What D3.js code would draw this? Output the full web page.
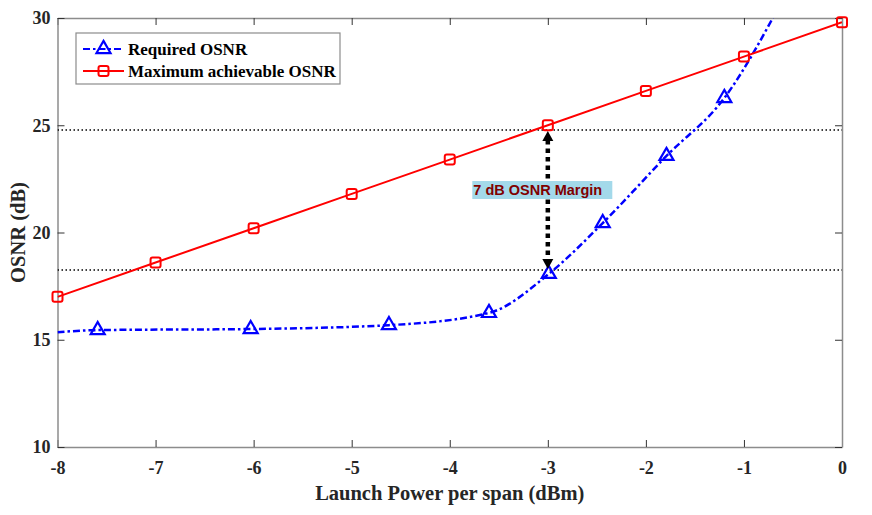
<!DOCTYPE html>
<html>
<head>
<meta charset="utf-8">
<script src="https://cdn.jsdelivr.net/npm/d3@7"></script>
<style>
  body { margin: 0; background: #fff; }
  text { font-family: "Liberation Serif", "Times New Roman", serif; font-weight: bold; }
</style>
</head>
<body>
<div id="wrapper"></div>
<script>
// launch power (dBm) vs OSNR (dB)
const powerMax = [-8, -7, -6, -5, -4, -3, -2, -1, 0];
const osnrMax = [17.0, 18.6, 20.2, 21.8, 23.4, 25.0, 26.6, 28.2, 29.8];

const powerReq = [-8, -7.59, -6.03, -4.62, -3.6, -2.99, -2.44, -1.79, -1.2, -0.6];
const osnrReq = [15.35, 15.45, 15.5, 15.68, 16.25, 18.07, 20.44, 23.57, 26.27, 30.9];
const reqMarkerIdx = [1, 2, 3, 4, 5, 6, 7, 8];

const xTicks = [-8, -7, -6, -5, -4, -3, -2, -1, 0];
const yTicks = [10, 15, 20, 25, 30];

const marginTop = 24.78;
const marginBottom = 18.25;
const marginPower = -3;
const marginLabel = "7 dB OSNR Margin";

function buildPlot() {
    const dimension = {
        width: 872,
        height: 515,
        margin: { top: 18, left: 57.5, bottom: 68, right: 30 }
    };
    dimension.boundedWidth = dimension.width - dimension.margin.left - dimension.margin.right;
    dimension.boundedHeight = dimension.height - dimension.margin.top - dimension.margin.bottom;

    const svg = d3.select("#wrapper").append("svg")
        .attr("width", dimension.width)
        .attr("height", dimension.height);

    const bounded = svg.append("g")
        .attr("transform", `translate(${dimension.margin.left},${dimension.margin.top})`);

    const scaleX = d3.scaleLinear().domain([-8, 0]).range([0, dimension.boundedWidth]);
    const scaleY = d3.scaleLinear().domain([10, 30]).range([dimension.boundedHeight, 0]);

    svg.append("defs").append("clipPath").attr("id", "clip")
        .append("rect")
        .attr("width", dimension.boundedWidth)
        .attr("height", dimension.boundedHeight);

    const axisColor = "#8c8c8c";
    const tickLen = 7;
    const fmt = d => String(d);

    // box axes with inward ticks
    const styleAxis = g => {
        g.select(".domain").attr("stroke", axisColor).attr("stroke-width", 1.5);
        g.selectAll(".tick line").attr("stroke", "#333").attr("stroke-width", 1);
        g.selectAll(".tick text").attr("fill", "#262626")
            .style("font-size", "18px");
    };

    bounded.append("g")
        .attr("transform", `translate(0,${dimension.boundedHeight})`)
        .call(d3.axisBottom(scaleX).tickValues(xTicks).tickFormat(fmt).tickSizeInner(-tickLen).tickSizeOuter(0).tickPadding(14))
        .call(styleAxis);
    bounded.append("g")
        .call(d3.axisTop(scaleX).tickValues(xTicks).tickSizeInner(-tickLen).tickSizeOuter(0).tickFormat(""))
        .call(styleAxis);
    bounded.append("g")
        .call(d3.axisLeft(scaleY).tickValues(yTicks).tickFormat(fmt).tickSizeInner(-tickLen).tickSizeOuter(0).tickPadding(7))
        .call(styleAxis);
    bounded.append("g")
        .attr("transform", `translate(${dimension.boundedWidth},0)`)
        .call(d3.axisRight(scaleY).tickValues(yTicks).tickSizeInner(-tickLen).tickSizeOuter(0).tickFormat(""))
        .call(styleAxis);

    // axis labels
    svg.append("text")
        .attr("x", dimension.margin.left + dimension.boundedWidth / 2)
        .attr("y", 500)
        .attr("text-anchor", "middle")
        .attr("fill", "#262626")
        .style("font-size", "20.5px")
        .text("Launch Power per span (dBm)");
    svg.append("text")
        .attr("transform", `translate(25,${dimension.margin.top + dimension.boundedHeight / 2}) rotate(-90)`)
        .attr("text-anchor", "middle")
        .attr("fill", "#262626")
        .style("font-size", "20.5px")
        .text("OSNR (dB)");

    const plot = bounded.append("g").attr("clip-path", "url(#clip)");

    // dotted reference levels
    [marginTop, marginBottom].forEach(v => {
        plot.append("line")
            .attr("x1", 0).attr("x2", dimension.boundedWidth)
            .attr("y1", scaleY(v)).attr("y2", scaleY(v))
            .attr("stroke", "#000").attr("stroke-width", 1.5)
            .attr("stroke-dasharray", "1.5,2.5");
    });

    // required OSNR curve
    const reqData = powerReq.map((p, i) => ({ x: p, y: osnrReq[i] }));
    plot.append("path")
        .datum(reqData)
        .attr("d", d3.line().x(d => scaleX(d.x)).y(d => scaleY(d.y)).curve(d3.curveMonotoneX))
        .attr("fill", "none")
        .attr("stroke", "#0000ff")
        .attr("stroke-width", 2.5)
        .attr("stroke-dasharray", "7,3,2.5,3");

    // max achievable curve
    const maxData = powerMax.map((p, i) => ({ x: p, y: osnrMax[i] }));
    plot.append("path")
        .datum(maxData)
        .attr("d", d3.line().x(d => scaleX(d.x)).y(d => scaleY(d.y)))
        .attr("fill", "none")
        .attr("stroke", "#ff0000")
        .attr("stroke-width", 2);

    const triangle = d3.symbol().type(d3.symbolTriangle).size(85);

    bounded.append("g").selectAll("path")
        .data(reqMarkerIdx.map(i => reqData[i]))
        .enter().append("path")
        .attr("transform", d => `translate(${scaleX(d.x)},${scaleY(d.y)})`)
        .attr("d", triangle)
        .attr("fill", "none")
        .attr("stroke", "#0000ff")
        .attr("stroke-width", 2.2);

    bounded.append("g").selectAll("rect")
        .data(maxData)
        .enter().append("rect")
        .attr("x", d => scaleX(d.x) - 5)
        .attr("y", d => scaleY(d.y) - 5)
        .attr("width", 10).attr("height", 10)
        .attr("rx", 2)
        .attr("fill", "none")
        .attr("stroke", "#ff0000")
        .attr("stroke-width", 2);

    // margin arrow
    const ax = scaleX(marginPower);
    const yTop = scaleY(marginTop);
    const yBot = scaleY(marginBottom);
    const head = 10;
    bounded.append("line")
        .attr("x1", ax).attr("x2", ax)
        .attr("y1", yTop + head).attr("y2", yBot - head)
        .attr("stroke", "#000").attr("stroke-width", 4.5)
        .attr("stroke-dasharray", "4.5,4");
    bounded.append("path")
        .attr("d", `M${ax},${yTop + 1} L${ax - 5.5},${yTop + head + 1} L${ax + 5.5},${yTop + head + 1} Z`)
        .attr("fill", "#000");
    bounded.append("path")
        .attr("d", `M${ax},${yBot - 1} L${ax - 5.5},${yBot - head - 1} L${ax + 5.5},${yBot - head - 1} Z`)
        .attr("fill", "#000");

    // margin label
    const lbl = bounded.append("g")
        .attr("transform", `translate(${scaleX(-3.77)},${scaleY(21.98)})`);
    lbl.append("rect")
        .attr("x", 0).attr("y", -9)
        .attr("width", 140).attr("height", 18)
        .attr("fill", "#a3d9ea");
    lbl.append("text")
        .attr("x", 1).attr("y", 5)
        .attr("fill", "#800000")
        .style("font-family", "'Liberation Sans', Arial, sans-serif")
        .style("font-size", "14.5px")
        .text(marginLabel);

    // legend
    const legend = bounded.append("g").attr("transform", "translate(18.5,15)");
    legend.append("rect")
        .attr("width", 264).attr("height", 51)
        .attr("fill", "#fff")
        .attr("stroke", axisColor).attr("stroke-width", 1.2);
    const items = [
        { label: "Required OSNR", color: "#0000ff", dash: "7,3,2.5,3", sym: "tri" },
        { label: "Maximum achievable OSNR", color: "#ff0000", dash: null, sym: "sq" }
    ];
    items.forEach((it, i) => {
        const row = legend.append("g").attr("transform", `translate(0,${16 + i * 22})`);
        row.append("line")
            .attr("x1", 7).attr("x2", 48)
            .attr("stroke", it.color).attr("stroke-width", 2.2)
            .attr("stroke-dasharray", it.dash);
        if (it.sym === "tri") {
            row.append("path").attr("transform", "translate(27.5,0)").attr("d", triangle)
                .attr("fill", "none").attr("stroke", it.color).attr("stroke-width", 2.2);
        } else {
            row.append("rect").attr("x", 22.5).attr("y", -5).attr("width", 10).attr("height", 10)
                .attr("rx", 2).attr("fill", "none").attr("stroke", it.color).attr("stroke-width", 2);
        }
        row.append("text")
            .attr("x", 52).attr("y", 5.5)
            .attr("fill", "#000")
            .style("font-size", "17px")
            .text(it.label);
    });
}

buildPlot();
</script>
</body>
</html>
